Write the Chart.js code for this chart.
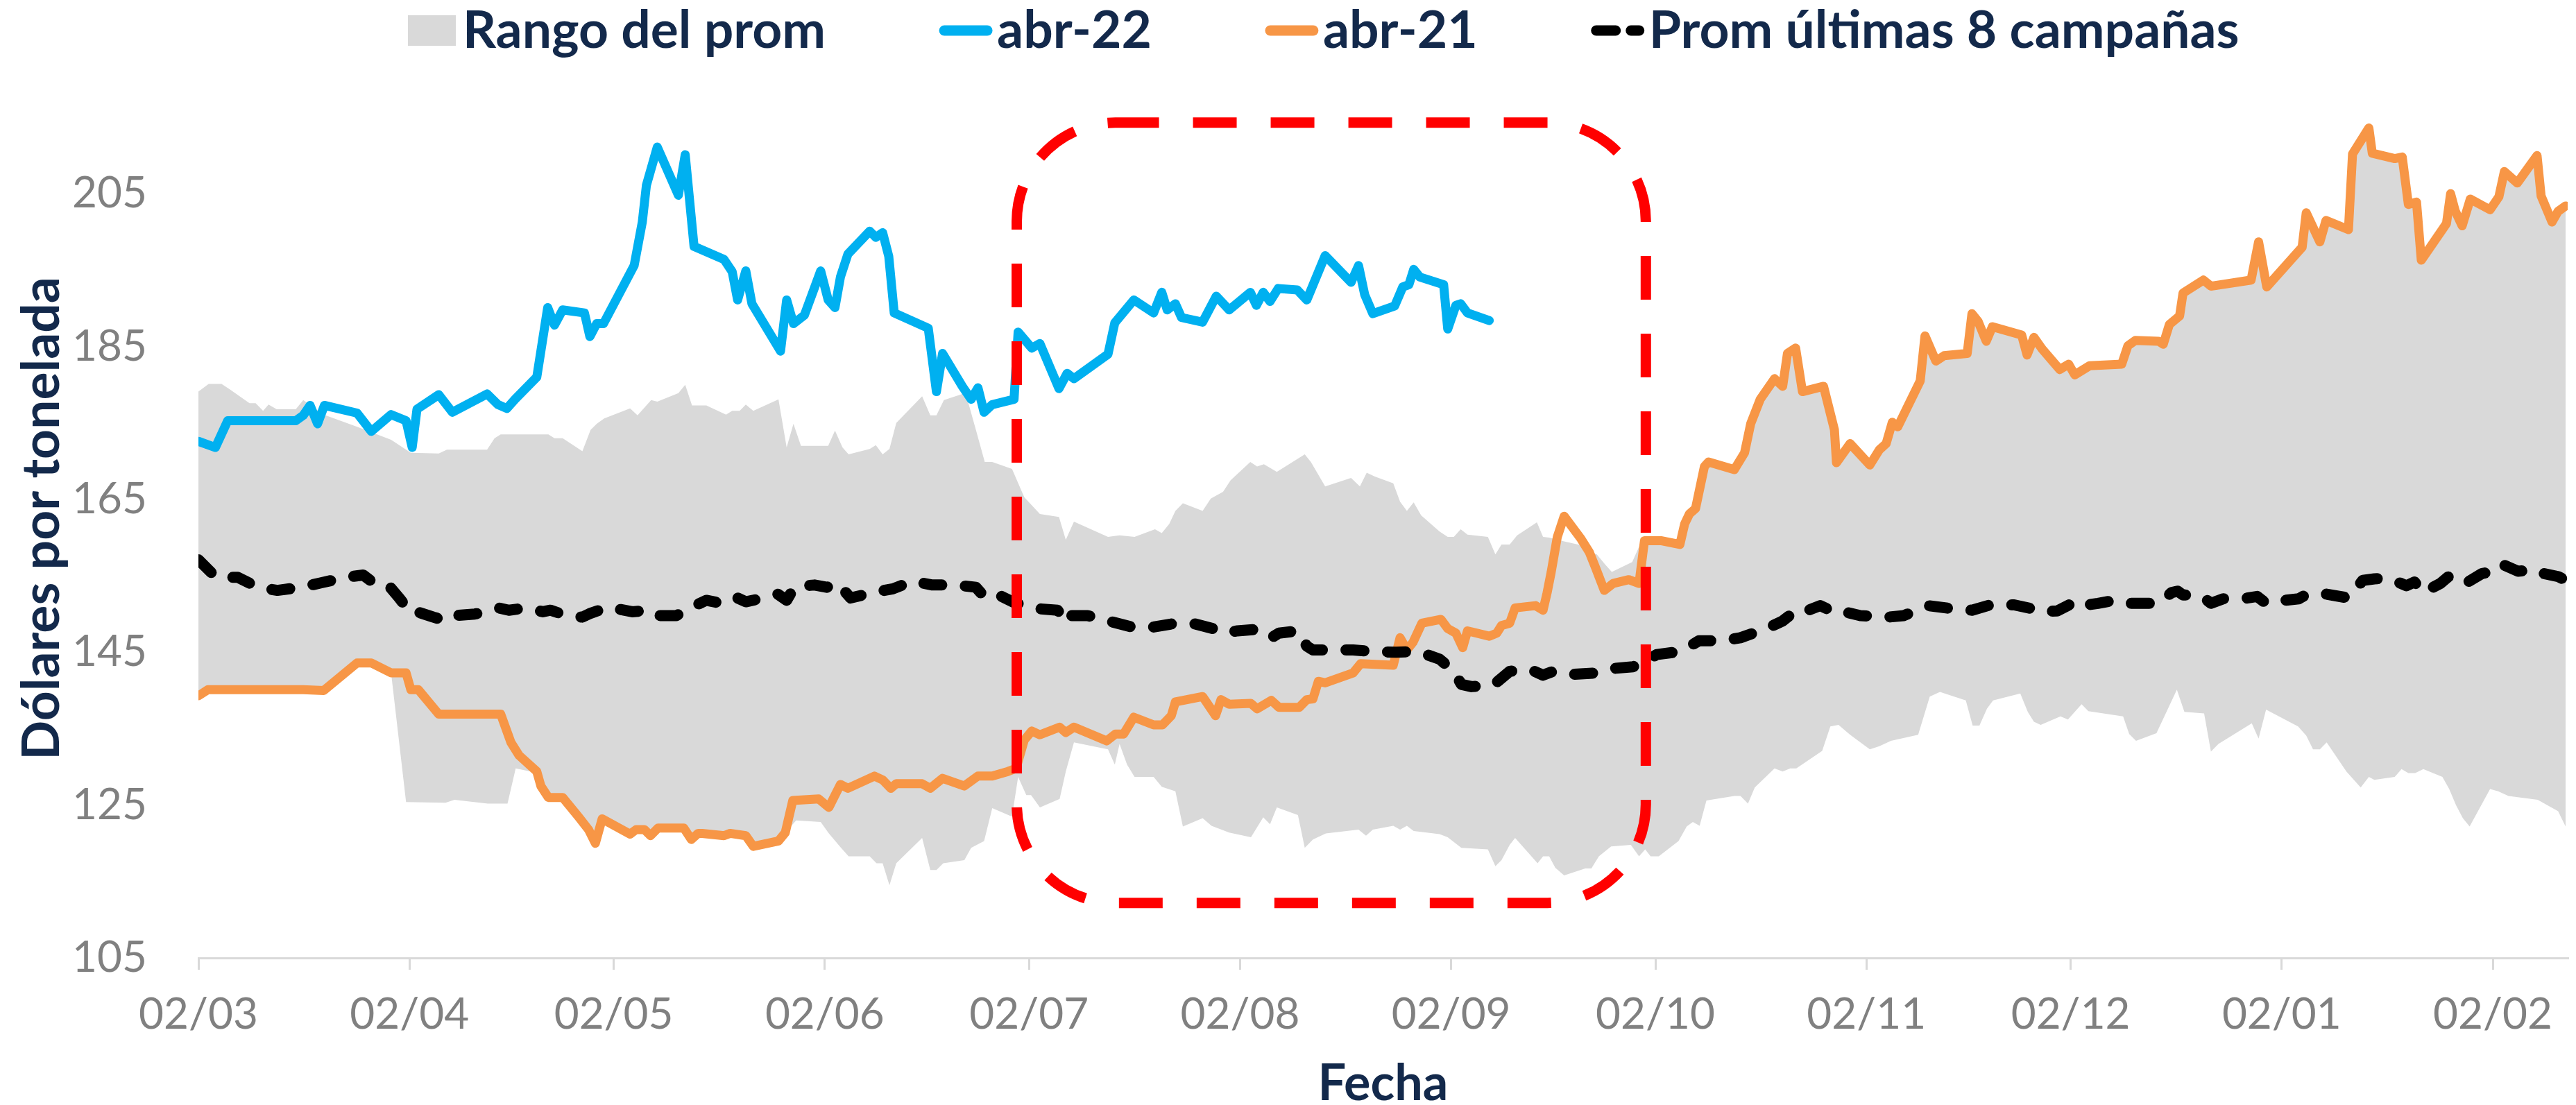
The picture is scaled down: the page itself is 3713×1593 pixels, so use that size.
<!DOCTYPE html>
<html>
<head>
<meta charset="utf-8">
<script src="https://cdn.jsdelivr.net/npm/chart.js@4"></script>
<style>
  html, body { margin: 0; padding: 0; background: #ffffff; }
  canvas { display: block; }
</style>
</head>
<body>
<canvas id="chart" width="3713" height="1593"></canvas>
<script>
// dias contados desde el 02/03; valores en dolares por tonelada
const tickDays = [0, 31, 61, 92, 122, 153, 184, 214, 245, 275, 306, 337];
const tickLabels = ["02/03", "02/04", "02/05", "02/06", "02/07", "02/08", "02/09", "02/10", "02/11", "02/12", "02/01", "02/02"];
const yTicks = [105, 125, 145, 165, 185, 205];

const seriesNames = ["Rango del prom", "abr-22", "abr-21", "Prom últimas 8 campañas"];

const abr22 = [
  [0, 172.6], [2.5, 171.8], [4.3, 175.3], [14.3, 175.3], [15.4, 176.0], [16.4, 177.3], [17.5, 174.9], [18.5, 177.3],
  [23.3, 176.3], [25.4, 173.9], [28.3, 176.1], [30.5, 175.3], [31.4, 171.8], [32.1, 176.8], [35.3, 178.7], [37.3, 176.4],
  [42.4, 178.8], [44, 177.4], [45.3, 176.9], [46.5, 178.1], [49.7, 181.0], [51.3, 190.1], [52.3, 187.8], [53.5, 189.8],
  [56.7, 189.4], [57.5, 186.3], [58.5, 188.0], [59.5, 188.0], [64, 195.6], [65.2, 201.3], [65.8, 206.1], [67.4, 211.1],
  [70.5, 204.8], [71.5, 210.1], [72.8, 198.1], [77.2, 196.4], [78.4, 194.8], [79.2, 191.1], [80.4, 194.9], [81.3, 190.6],
  [85.5, 184.4], [86.4, 191.1], [87.4, 188.0], [89, 189.1], [91.4, 194.9], [92.5, 191.1], [93.5, 190.1], [94.3, 194.1],
  [95.4, 197.1], [98.6, 200.1], [99.5, 199.3], [100.5, 199.9], [101.4, 196.8], [102.2, 189.4], [107.2, 187.4], [108.4, 179.1],
  [109.3, 184.1], [112.2, 179.8], [113.5, 178.1], [114.5, 179.6], [115.4, 176.4], [116.6, 177.4], [119.8, 178.1], [120.4, 186.9],
  [122.4, 184.8], [123.6, 185.4], [126.4, 179.5], [127.6, 181.5], [128.6, 180.8], [133.6, 184.0], [134.6, 188.1], [137.4, 191.1],
  [140.3, 189.4], [141.5, 192.1], [142.3, 189.8], [143.5, 190.6], [144.4, 188.8], [147.5, 188.2], [149.5, 191.6], [151.4, 189.8],
  [154.5, 192.1], [155.4, 190.4], [156.4, 192.1], [157.4, 190.9], [158.6, 192.6], [161.4, 192.4], [162.8, 191.1], [165.5, 196.9],
  [169.3, 193.4], [170.4, 195.6], [171.3, 191.8], [172.5, 189.3], [175.7, 190.3], [176.9, 192.8], [177.8, 193.1], [178.5, 195.1],
  [179.4, 194.1], [182.9, 193.1], [183.5, 187.3], [184.7, 190.4], [185.4, 190.6], [186.4, 189.4], [189.6, 188.4]
];

const abr21 = [
  [0, 139.3], [1.4, 140.1], [15.4, 140.1], [18.4, 140.0], [23.3, 143.6], [25.4, 143.6], [28.3, 142.3], [30.5, 142.3],
  [31.2, 140.1], [32.3, 140.1], [35.3, 136.9], [44.4, 136.9], [45.9, 133.2], [47.1, 131.5], [49.7, 129.4], [50.3, 127.5],
  [51.4, 126.0], [53.5, 126.0], [55.8, 123.5], [57.3, 121.8], [58.3, 120.0], [59.3, 123.2], [63.4, 121.2], [64.3, 121.8],
  [65.5, 121.8], [66.4, 121.0], [67.5, 122.0], [71.3, 122.0], [72.4, 120.5], [73.4, 121.3], [74, 121.3], [77.2, 121.0],
  [78.1, 121.3], [80.4, 121.0], [81.5, 119.6], [85.2, 120.3], [86.2, 121.4], [87.3, 125.6], [91.1, 125.8], [92.6, 124.7],
  [94.3, 127.7], [95.4, 127.2], [99.3, 128.8], [100.5, 128.3], [101.7, 127.2], [102.5, 127.8], [106.3, 127.8], [107.5, 127.2],
  [109.3, 128.5], [112.5, 127.5], [114.5, 128.8], [116.6, 128.8], [118.9, 129.4], [120.1, 129.8], [121.3, 133.5], [122.4, 134.7],
  [123.6, 134.2], [126.5, 135.2], [127.4, 134.5], [128.6, 135.2], [133.4, 133.4], [134.7, 134.3], [135.9, 134.3], [137.4, 136.5],
  [140.3, 135.5], [141.6, 135.5], [142.9, 136.7], [143.5, 138.5], [147.5, 139.2], [149.4, 136.7], [150.2, 138.8], [151.4, 138.2],
  [154.6, 138.3], [155.5, 137.6], [157.6, 138.7], [158.7, 137.8], [161.7, 137.8], [162.8, 138.8], [163.7, 138.9], [164.5, 141.2],
  [165.5, 141.0], [169.6, 142.3], [170.7, 143.5], [175.5, 143.3], [176.5, 146.9], [177.5, 145.3], [178.4, 146.3], [179.7, 148.8],
  [182.5, 149.3], [183.5, 148.1], [184.7, 147.5], [185.7, 145.6], [186.4, 147.8], [189.6, 147.1], [190.7, 147.5], [191.4, 148.5],
  [192.6, 148.8], [193.4, 150.8], [196.4, 151.1], [197.5, 150.5], [198.1, 152.8], [198.7, 155.5], [199.6, 160.1], [200.6, 162.8],
  [203.1, 159.8], [204.3, 158.1], [205.2, 156.1], [206.5, 153.1], [207.8, 154.0], [210.1, 154.5], [211.6, 154.0], [212.4, 159.6],
  [214.8, 159.6], [217.6, 159.1], [218.3, 161.8], [219.0, 163.1], [219.9, 163.8], [221.2, 169.3], [221.8, 169.9], [225.6, 168.9],
  [227.1, 171.1], [228.0, 174.9], [229.4, 178.1], [231.5, 180.8], [232.7, 179.8], [233.4, 184.1], [234.6, 184.8], [235.6, 179.1],
  [238.7, 179.8], [239.4, 177.3], [240.3, 174.1], [240.6, 169.8], [242.6, 172.3], [245.5, 169.5], [246.9, 171.5], [247.9, 172.3],
  [248.8, 175.1], [249.6, 174.5], [252.9, 180.5], [253.6, 186.4], [255.2, 183.1], [256.4, 183.8], [259.8, 184.1], [260.5, 189.3],
  [261.4, 188.3], [262.6, 185.7], [263.5, 187.6], [267.8, 186.5], [268.6, 183.9], [269.6, 186.2], [270.8, 184.7], [273.4, 182.0],
  [274.7, 182.7], [275.6, 181.3], [277.8, 182.5], [282.5, 182.7], [283.4, 185.1], [284.5, 185.8], [287.9, 185.7], [288.6, 185.3],
  [289.5, 187.9], [291.0, 189.0], [291.5, 192.0], [294.5, 193.7], [295.6, 192.9], [301.5, 193.7], [302.6, 198.7], [303.8, 192.8],
  [309.0, 198.0], [309.6, 202.5], [311.6, 198.7], [312.5, 201.5], [315.8, 200.3], [316.4, 210.2], [318.8, 213.6], [319.3, 210.3],
  [322.6, 209.6], [323.7, 209.8], [324.6, 203.6], [325.8, 203.9], [326.5, 196.3], [330.2, 201.1], [330.8, 205.0], [331.5, 202.7],
  [332.5, 200.8], [333.7, 204.3], [336.6, 202.9], [337.9, 204.6], [338.7, 207.9], [340.6, 206.4], [343.5, 210.0], [344.1, 204.7],
  [345.7, 201.3], [346.6, 202.7], [347.7, 203.4]
];

const prom8 = [
  [0, 157.1], [2.6, 154.8], [5.8, 154.8], [8.7, 153.5], [11.6, 153.1], [15.1, 153.5], [18.1, 154.1], [21.6, 154.8],
  [24.2, 155.1], [25.4, 154.3], [27.7, 154.0], [29.5, 152.1], [31.2, 150.1], [32.1, 150.3], [34.5, 149.6], [36.4, 149.1],
  [37.7, 149.8], [40.6, 150.0], [42.4, 150.3], [44.1, 150.8], [45.6, 150.5], [48.2, 150.8], [50.6, 150.3], [51.7, 150.5],
  [54.1, 149.8], [56.4, 149.6], [57.6, 150.1], [60.2, 150.9], [63.7, 150.3], [66.4, 150.5], [67.5, 149.8], [70.2, 149.8],
  [72.5, 150.9], [74.6, 151.8], [76.3, 151.5], [78.7, 152.3], [80.4, 151.6], [82.5, 152.0], [85.1, 152.6], [86.4, 151.8],
  [87.6, 153.6], [90.5, 153.8], [92.3, 153.5], [93.8, 154.1], [95.8, 152.1], [99.0, 152.8], [102.0, 153.3], [104.9, 154.3],
  [107.8, 153.8], [111.3, 153.8], [114.2, 153.5], [115.4, 152.3], [117.1, 152.7], [119.8, 151.5], [123.3, 150.7], [126.2, 150.5],
  [127.6, 148.8], [128.3, 149.8], [130.6, 149.8], [134.1, 149.0], [137.1, 148.3], [140.3, 148.3], [142.9, 148.7], [146.4, 148.7],
  [149.4, 148.0], [150.5, 147.5], [152.6, 147.8], [155.5, 148.0], [157.6, 146.9], [158.7, 147.5], [161.5, 147.8], [162.8, 145.8],
  [163.7, 145.3], [169.6, 145.3], [172.6, 145.1], [175.9, 145.0], [179.1, 145.1], [182.3, 144.1], [184.4, 142.5], [185.5, 140.8],
  [187.0, 140.5], [190.2, 140.7], [192.6, 142.5], [195.5, 142.8], [197.5, 142.0], [199.0, 142.5], [201.9, 142.1], [205.4, 142.3],
  [208.1, 142.9], [210.7, 143.1], [211.9, 143.5], [214.2, 144.7], [217.7, 145.1], [220.4, 146.5], [223.9, 146.5], [226.5, 146.9],
  [230.3, 148.1], [232.7, 149.1], [234.7, 150.5], [235.9, 150.3], [238.2, 151.1], [240.6, 150.1], [241.7, 150.3], [244.1, 149.8],
  [248.2, 149.6], [250.5, 149.8], [254.0, 151.1], [256.7, 150.8], [258.5, 150.6], [260.5, 150.5], [263.2, 151.2], [266.7, 151.2],
  [269.3, 150.7], [270.5, 150.3], [273.0, 150.4], [275.2, 151.4], [276.3, 151.8], [277.5, 151.2], [279.0, 151.4], [281.6, 151.8],
  [283.4, 151.4], [285.4, 151.4], [288.0, 151.4], [289.8, 152.8], [290.7, 153.0], [291.5, 152.5], [294.2, 152.4], [295.6, 151.4],
  [297.4, 152.0], [300.3, 152.0], [302.4, 152.3], [303.7, 151.4], [306.5, 151.8], [308.5, 152.0], [309.7, 152.6], [312.6, 152.6],
  [315.8, 152.1], [316.4, 152.8], [317.9, 154.4], [319.6, 154.6], [321.7, 154.7], [324.3, 153.7], [325.5, 154.2], [326.7, 152.8],
  [329.3, 154.0], [330.5, 154.9], [332.8, 153.9], [335.4, 155.3], [337.5, 155.6], [338.4, 156.5], [340.7, 155.6], [343.6, 155.8],
  [344.5, 155.3], [346.6, 154.9], [347.7, 154.4]
];

// borde superior del rango; desde el 02/10 coincide con abr-21
const rangoAltoInicio = [
  [0, 179.1], [1.5, 180.1], [3.4, 180.1], [4.6, 179.4], [7.5, 177.6], [8.4, 177.6], [9.5, 176.6], [10.3, 177.4],
  [11.5, 176.8], [14.3, 176.8], [15.4, 178.0], [18.4, 176.1], [23.3, 174.5], [28.3, 172.8], [31.2, 171.1], [35.3, 171.0],
  [36.5, 171.5], [42.4, 171.5], [43.5, 173.0], [44.4, 173.5], [51.4, 173.5], [52.3, 173.0], [53.5, 173.0], [56.4, 171.3],
  [57.6, 174.1], [58.5, 174.9], [59.6, 175.6], [63.4, 176.9], [64.5, 176.0], [66.5, 178.0], [67.4, 177.8], [70.5, 178.9],
  [71.5, 180.0], [72.5, 177.3], [74.6, 177.3], [77.5, 176.1], [78.4, 176.6], [79.5, 176.6], [80.4, 177.4], [81.5, 176.6],
  [85.2, 178.1], [86.4, 171.8], [87.4, 174.9], [88.5, 172.0], [92.5, 172.0], [93.5, 174.0], [94.6, 171.8], [95.5, 170.9],
  [98.6, 171.6], [99.5, 172.1], [100.5, 170.9], [101.5, 171.6], [102.5, 175.0], [106.3, 178.5], [107.5, 176.0], [108.4, 176.0],
  [109.5, 178.0], [112.2, 178.8], [113.1, 177.6], [114.2, 174.1], [115.5, 169.9], [116.6, 169.9], [119.5, 169.0], [121.3, 165.3],
  [123.6, 163.1], [126.4, 162.7], [127.4, 159.7], [128.6, 162.1], [133.6, 160.1], [135.3, 160.3], [137.5, 160.1], [140.5, 161.1],
  [141.5, 160.6], [142.6, 161.8], [143.5, 163.5], [144.6, 164.5], [147.5, 163.5], [148.7, 165.1], [150.5, 166.0], [151.6, 167.5],
  [154.5, 169.9], [155.5, 169.3], [156.5, 169.6], [158.4, 168.6], [162.5, 170.9], [163.4, 169.9], [165.5, 166.7], [169.3, 167.8],
  [170.6, 166.7], [171.6, 168.5], [172.8, 168.0], [175.5, 167.1], [176.5, 164.7], [177.5, 163.5], [178.5, 164.6], [179.6, 162.9],
  [182.3, 160.8], [183.5, 160.1], [184.4, 160.1], [185.4, 161.1], [186.4, 160.4], [189.4, 160.1], [190.5, 157.8], [191.4, 159.1],
  [192.6, 159.1], [193.7, 160.3], [196.6, 162.0], [197.5, 160.1], [198.4, 160.0], [200.6, 159.5], [203.1, 159.0], [204.3, 158.1],
  [205.4, 157.8], [206.6, 156.5], [207.6, 155.5], [210.6, 156.8], [211.6, 158.8]
];

// borde inferior del rango, tramos que no siguen a abr-21
const rangoBajoAbril = [
  [30.5, 125.4], [36.3, 125.3], [37.6, 125.7], [42.5, 125.2], [45.4, 125.2], [46.6, 129.8], [48.8, 129.4]
];
const rangoBajoFinal = [
  [87.8, 123.0], [91.4, 122.8], [92.6, 121.3], [94.3, 119.5], [95.5, 118.3], [98.6, 118.3], [99.6, 117.4], [100.5, 117.4],
  [101.5, 114.5], [102.5, 117.4], [106.3, 120.7], [107.5, 116.5], [108.4, 116.5], [109.4, 117.4], [112.5, 117.8], [113.5, 119.4],
  [115.4, 120.3], [116.6, 124.6], [119.5, 123.5], [120.4, 128.7], [121.6, 126.3], [122.3, 126.3], [123.6, 124.7], [126.5, 125.8],
  [127.4, 129.4], [128.6, 133.2], [133.6, 132.3], [134.6, 130.3], [135.3, 133.0], [136.4, 130.3], [137.5, 128.7], [140.3, 128.7],
  [141.5, 127.4], [143.5, 126.8], [144.6, 122.2], [147.5, 123.3], [148.8, 122.3], [151.4, 121.4], [154.6, 120.8], [156.4, 123.4],
  [157.4, 122.5], [158.4, 124.7], [161.5, 123.7], [162.5, 119.4], [163.7, 120.5], [165.6, 121.3], [170.4, 121.8], [171.5, 121.0],
  [172.5, 121.8], [175.5, 122.3], [176.5, 121.8], [177.5, 122.3], [178.5, 121.6], [182.3, 121.2], [183.5, 120.8], [185.5, 119.4],
  [189.4, 119.2], [190.5, 117.0], [191.4, 117.8], [192.6, 119.8], [193.4, 120.7], [196.7, 117.4], [197.5, 118.3], [198.4, 118.3],
  [199.3, 116.8], [200.6, 115.8], [203.7, 116.7], [204.6, 116.7], [205.7, 118.3], [207.5, 119.6], [210.4, 119.8], [211.6, 118.3],
  [212.5, 119.2], [213.3, 118.3], [214.5, 118.3], [217.4, 120.3], [218.6, 122.2], [219.5, 122.8], [220.5, 122.3], [221.5, 125.6],
  [225.6, 126.2], [226.5, 126.2], [227.6, 125.2], [228.6, 127.3], [231.5, 129.8], [232.7, 129.4], [233.8, 129.8], [234.7, 129.8],
  [238.5, 132.1], [239.7, 135.3], [240.9, 135.5], [242.6, 134.2], [245.5, 132.3], [246.9, 132.7], [248.6, 133.4], [252.6, 134.2],
  [254.3, 139.2], [255.8, 139.8], [259.6, 138.7], [260.6, 135.4], [261.6, 135.4], [262.7, 137.6], [263.6, 138.7], [267.6, 139.6],
  [268.7, 137.2], [269.6, 135.9], [270.6, 135.5], [273.5, 136.6], [274.6, 136.2], [276.6, 138.2], [277.6, 137.3], [282.7, 136.6],
  [283.6, 134.3], [284.6, 133.4], [287.6, 134.4], [290.6, 140.1], [291.7, 137.2], [294.6, 137.0], [295.6, 132.0], [296.7, 133.0],
  [301.6, 135.7], [302.6, 133.7], [303.7, 137.5], [308.4, 135.3], [309.6, 134.1], [310.6, 132.3], [311.6, 132.3], [312.6, 133.2],
  [315.5, 129.4], [317.6, 127.3], [318.8, 128.7], [319.6, 128.3], [322.6, 128.7], [323.6, 129.7], [324.6, 129.2], [325.6, 129.2],
  [326.8, 129.7], [329.6, 128.7], [330.6, 127.1], [331.6, 125.0], [332.6, 123.3], [333.6, 122.2], [336.6, 127.1], [337.8, 126.8],
  [339.3, 126.2], [343.6, 125.7], [346.6, 124.2], [347.7, 122.2]
];

// recuadro rojo: dias y valores de sus bordes
const boxDays = [120.2, 212.6];
const boxVals = [112.2, 214.3];

const rangoAlto = rangoAltoInicio.concat(abr21.filter(p => p[0] >= 212.4));
const rangoBajo = abr21.filter(p => p[0] <= 28.3)
  .concat(rangoBajoAbril)
  .concat(abr21.filter(p => p[0] >= 49.7 && p[0] <= 86.2))
  .concat(rangoBajoFinal);

const toXY = (pairs) => pairs.map(p => ({ x: p[0], y: p[1] }));

const navy = "#13294B";
const grey = "#808080";

const legendRow = {
  id: "legendRow",
  afterDraw(chart) {
    const ctx = chart.ctx;
    ctx.save();
    ctx.font = "bold 75px Lato";
    ctx.textBaseline = "alphabetic";
    let x = 588;
    const cy = 44;
    chart.data.datasets.forEach((ds) => {
      if (!ds.legendKind) return;
      if (ds.legendKind == "box") {
        ctx.fillStyle = ds.backgroundColor;
        ctx.fillRect(x, cy - 22, 69, 44);
        x += 69 + 10;
      } else {
        ctx.strokeStyle = ds.borderColor;
        ctx.lineWidth = 15;
        ctx.lineCap = "round";
        ctx.setLineDash(ds.legendDash || []);
        ctx.beginPath();
        ctx.moveTo(x + 8, cy);
        ctx.lineTo(x + 70, cy);
        ctx.stroke();
        ctx.setLineDash([]);
        x += 78 + 6;
      }
      ctx.fillStyle = navy;
      ctx.fillText(ds.label, x, 69);
      x += ctx.measureText(ds.label).width + 163;
    });
    ctx.restore();
  },
};

const highlight = {
  id: "highlight",
  afterDatasetsDraw(chart) {
    const { ctx, scales } = chart;
    const x0 = scales.x.getPixelForValue(boxDays[0]);
    const x1 = scales.x.getPixelForValue(boxDays[1]);
    const y0 = scales.y.getPixelForValue(boxVals[1]);
    const y1 = scales.y.getPixelForValue(boxVals[0]);
    const r = 142;
    ctx.save();
    ctx.strokeStyle = "#FF0000";
    ctx.lineWidth = 15;
    ctx.setLineDash([63, 49]);
    ctx.beginPath();
    ctx.moveTo(x0 + r, y0);
    ctx.lineTo(x1 - r, y0);
    ctx.arcTo(x1, y0, x1, y0 + r, r);
    ctx.lineTo(x1, y1 - r);
    ctx.arcTo(x1, y1, x1 - r, y1, r);
    ctx.lineTo(x0 + r, y1);
    ctx.arcTo(x0, y1, x0, y1 - r, r);
    ctx.lineTo(x0, y0 + r);
    ctx.arcTo(x0, y0, x0 + r, y0, r);
    ctx.closePath();
    ctx.stroke();
    ctx.restore();
  },
};

const config = {
  type: "line",
  data: {
    datasets: [
      {
        label: seriesNames[0],
        data: toXY(rangoAlto),
        backgroundColor: "#D9D9D9",
        borderWidth: 0,
        pointRadius: 0,
        fill: "+1",
        order: 5,
        legendKind: "box",
      },
      {
        label: "rango-min",
        data: toXY(rangoBajo),
        borderWidth: 0,
        pointRadius: 0,
        fill: false,
        order: 6,
      },
      {
        label: seriesNames[1],
        data: toXY(abr22),
        borderColor: "#00B0F0",
        backgroundColor: "#00B0F0",
        borderWidth: 13,
        pointRadius: 0,
        borderJoinStyle: "round",
        borderCapStyle: "round",
        fill: false,
        order: 3,
        legendKind: "line",
      },
      {
        label: seriesNames[2],
        data: toXY(abr21),
        borderColor: "#F79646",
        backgroundColor: "#F79646",
        borderWidth: 13,
        pointRadius: 0,
        borderJoinStyle: "round",
        borderCapStyle: "round",
        fill: false,
        order: 2,
        legendKind: "line",
      },
      {
        label: seriesNames[3],
        data: toXY(prom8),
        borderColor: "#000000",
        backgroundColor: "#000000",
        borderWidth: 16,
        borderDash: [26, 34],
        borderCapStyle: "round",
        borderJoinStyle: "round",
        pointRadius: 0,
        fill: false,
        order: 1,
        legendKind: "line",
        legendDash: [28, 22],
      },
    ],
  },
  options: {
    responsive: false,
    animation: false,
    devicePixelRatio: 1,
    layout: {
      padding: { top: 114, left: 10, right: 12, bottom: 0 },
    },
    plugins: {
      legend: { display: false },
      tooltip: { enabled: false },
    },
    scales: {
      x: {
        type: "linear",
        min: 0,
        max: 348,
        afterBuildTicks: (scale) => {
          scale.ticks = tickDays.map((d) => ({ value: d }));
        },
        afterFit: (scale) => {
          scale.height = 212;
        },
        ticks: {
          autoSkip: false,
          maxRotation: 0,
          padding: 28,
          color: grey,
          font: { family: "Lato", size: 62 },
          callback: (value, index) => tickLabels[index],
        },
        grid: {
          drawOnChartArea: false,
          drawTicks: true,
          tickLength: 17,
          color: "#D9D9D9",
          lineWidth: 3,
        },
        border: { display: true, color: "#D9D9D9", width: 3 },
        title: {
          display: true,
          text: "Fecha",
          color: navy,
          font: { family: "Lato", size: 72, weight: "bold", lineHeight: 0.85 },
          padding: { top: 0, bottom: 0 },
        },
      },
      y: {
        min: 105,
        max: 220,
        afterBuildTicks: (scale) => {
          scale.ticks = yTicks.map((v) => ({ value: v }));
        },
        afterFit: (scale) => {
          scale.width = 276;
        },
        ticks: {
          padding: 66,
          color: grey,
          font: { family: "Lato", size: 62 },
        },
        grid: { display: false },
        border: { display: false },
        title: {
          display: true,
          text: "Dólares por tonelada",
          color: navy,
          font: { family: "Lato", size: 75, weight: "bold" },
          padding: { top: 6, bottom: 0 },
        },
      },
    },
  },
  plugins: [legendRow, highlight],
};

const myChart = new Chart(document.getElementById("chart"), config);
</script>
</body>
</html>
